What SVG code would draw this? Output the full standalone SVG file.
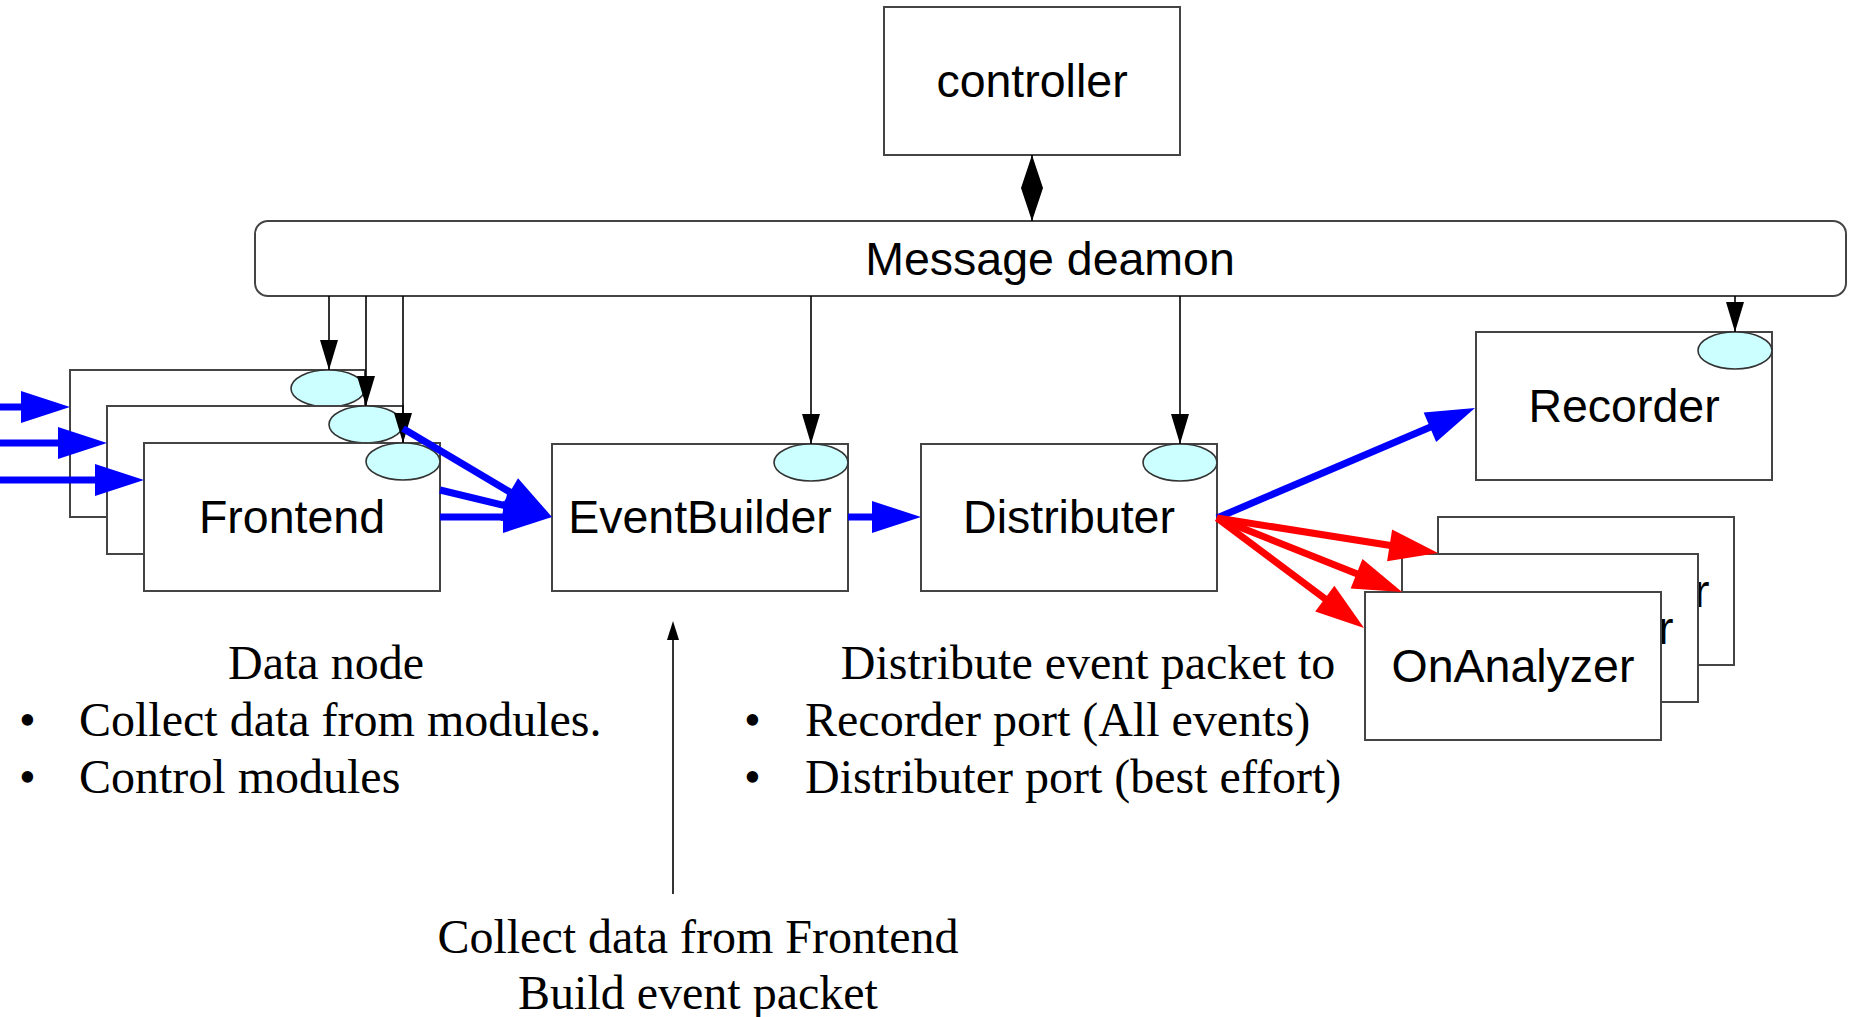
<svg xmlns="http://www.w3.org/2000/svg" width="1851" height="1017" viewBox="0 0 1851 1017">
<style>
.box{fill:#fff;stroke:#444;stroke-width:2}
.port{fill:#ccffff;stroke:#333;stroke-width:1.6}
.lbl{font-family:"Liberation Sans",Arial,sans-serif;font-size:46.5px;fill:#000;text-anchor:middle}
.note{font-family:"Liberation Serif","Times New Roman",serif;font-size:48px;fill:#000}
.ctl{stroke:#000;stroke-width:1.6;fill:none}
.blue{stroke:#0000ff;stroke-width:7;fill:none}
.red{stroke:#ff0000;stroke-width:7;fill:none}
</style>
<defs>
<marker id="bh" markerUnits="userSpaceOnUse" markerWidth="52" markerHeight="34" refX="9" refY="16" orient="auto" overflow="visible"><path d="M0,0 L49,16 L0,32 z" fill="#0000ff"/></marker>
<marker id="rh" markerUnits="userSpaceOnUse" markerWidth="52" markerHeight="34" refX="9" refY="16" orient="auto" overflow="visible"><path d="M0,0 L49,16 L0,32 z" fill="#ff0000"/></marker>
<marker id="kh" markerUnits="userSpaceOnUse" markerWidth="32" markerHeight="20" refX="30" refY="9" orient="auto" overflow="visible"><path d="M0,0 L30,9 L0,18 z" fill="#000"/></marker>
</defs>
<rect width="1851" height="1017" fill="#fff"/>

<g id="frontend-3">
<rect class="box" x="70" y="370" width="295" height="147"/>
<ellipse class="port" cx="328" cy="388.5" rx="37" ry="18.5"/>
</g>
<g id="frontend-2">
<rect class="box" x="107" y="406" width="296" height="148"/>
<ellipse class="port" cx="366" cy="424.5" rx="37" ry="18.5"/>
</g>
<g id="frontend">
<rect class="box" x="144" y="443" width="296" height="148"/>
<text class="lbl" x="292" y="533">Frontend</text>
<ellipse class="port" cx="403" cy="461.5" rx="37" ry="18.5"/>
</g>
<g id="eventbuilder">
<rect class="box" x="552" y="444" width="296" height="147"/>
<text class="lbl" x="700" y="533">EventBuilder</text>
<ellipse class="port" cx="811" cy="462.5" rx="37" ry="18.5"/>
</g>
<g id="distributer">
<rect class="box" x="921" y="444" width="296" height="147"/>
<text class="lbl" x="1069" y="533">Distributer</text>
<ellipse class="port" cx="1180" cy="462.5" rx="37" ry="18.5"/>
</g>
<g id="recorder">
<rect class="box" x="1476" y="332" width="296" height="148"/>
<text class="lbl" x="1624" y="422">Recorder</text>
<ellipse class="port" cx="1735" cy="350.5" rx="37" ry="18.5"/>
</g>
<g id="onanalyzer-3">
<rect class="box" x="1438" y="517" width="296" height="148"/>
<text class="lbl" x="1588" y="607">OnAnalyzer</text>
</g>
<g id="onanalyzer-2">
<rect class="box" x="1402" y="554" width="296" height="148"/>
<text class="lbl" x="1552" y="644">OnAnalyzer</text>
</g>
<g id="onanalyzer">
<rect class="box" x="1365" y="592" width="296" height="148"/>
<text class="lbl" x="1513" y="682">OnAnalyzer</text>
</g>
<g id="controller">
<rect class="box" x="884" y="7" width="296" height="148"/>
<text class="lbl" x="1032" y="97">controller</text>
</g>
<g id="message-deamon">
<rect class="box" x="255" y="221" width="1591" height="75" rx="13"/>
<text class="lbl" x="1050" y="275">Message deamon</text>
</g>

<g id="connectors">
<line class="ctl" x1="1032" y1="155" x2="1032" y2="221"/>
<path d="M1032,155 L1043,188 L1021,188 z M1032,221 L1043,188 L1021,188 z" fill="#000"/>
<line class="ctl" x1="329" y1="296" x2="329" y2="370" marker-end="url(#kh)"/>
<line class="ctl" x1="366" y1="296" x2="366" y2="406" marker-end="url(#kh)"/>
<line class="ctl" x1="403" y1="296" x2="403" y2="443" marker-end="url(#kh)"/>
<line class="ctl" x1="811" y1="296" x2="811" y2="444" marker-end="url(#kh)"/>
<line class="ctl" x1="1180" y1="296" x2="1180" y2="444" marker-end="url(#kh)"/>
<line class="ctl" x1="1735" y1="296" x2="1735" y2="332" marker-end="url(#kh)"/>

<line class="blue" x1="0" y1="407" x2="30" y2="407" marker-end="url(#bh)"/>
<line class="blue" x1="0" y1="443" x2="67" y2="443" marker-end="url(#bh)"/>
<line class="blue" x1="0" y1="480" x2="104" y2="480" marker-end="url(#bh)"/>
<line class="blue" x1="440" y1="517" x2="512" y2="517" marker-end="url(#bh)"/>
<line class="blue" x1="440" y1="490" x2="513.1" y2="507.6" marker-end="url(#bh)"/>
<line class="blue" x1="403" y1="428.6" x2="517.6" y2="496.6" marker-end="url(#bh)"/>
<line class="blue" x1="848" y1="517" x2="881" y2="517" marker-end="url(#bh)"/>
<line class="blue" x1="1217" y1="518" x2="1438.2" y2="423.7" marker-end="url(#bh)"/>
<line class="red" x1="1217" y1="518" x2="1398.5" y2="546.8" marker-end="url(#rh)"/>
<line class="red" x1="1217" y1="518" x2="1364.9" y2="577.1" marker-end="url(#rh)"/>
<line class="red" x1="1217" y1="518" x2="1332" y2="604" marker-end="url(#rh)"/>

<line class="ctl" x1="673" y1="894" x2="673" y2="624"/>
<path d="M673,621 L679,640 L667,640 z" fill="#000"/>
</g>

<g id="annotations">
<text class="note" x="326" y="679" text-anchor="middle">Data node</text>
<text class="note" x="19" y="736">•</text>
<text class="note" x="79" y="736">Collect data from modules.</text>
<text class="note" x="19" y="793">•</text>
<text class="note" x="79" y="793">Control modules</text>
<text class="note" x="1088" y="679" text-anchor="middle">Distribute event packet to</text>
<text class="note" x="744" y="736">•</text>
<text class="note" x="805" y="736">Recorder port (All events)</text>
<text class="note" x="744" y="793">•</text>
<text class="note" x="805" y="793">Distributer port (best effort)</text>
<text class="note" x="698" y="953" text-anchor="middle">Collect data from Frontend</text>
<text class="note" x="698" y="1009" text-anchor="middle">Build event packet</text>
</g>
</svg>
